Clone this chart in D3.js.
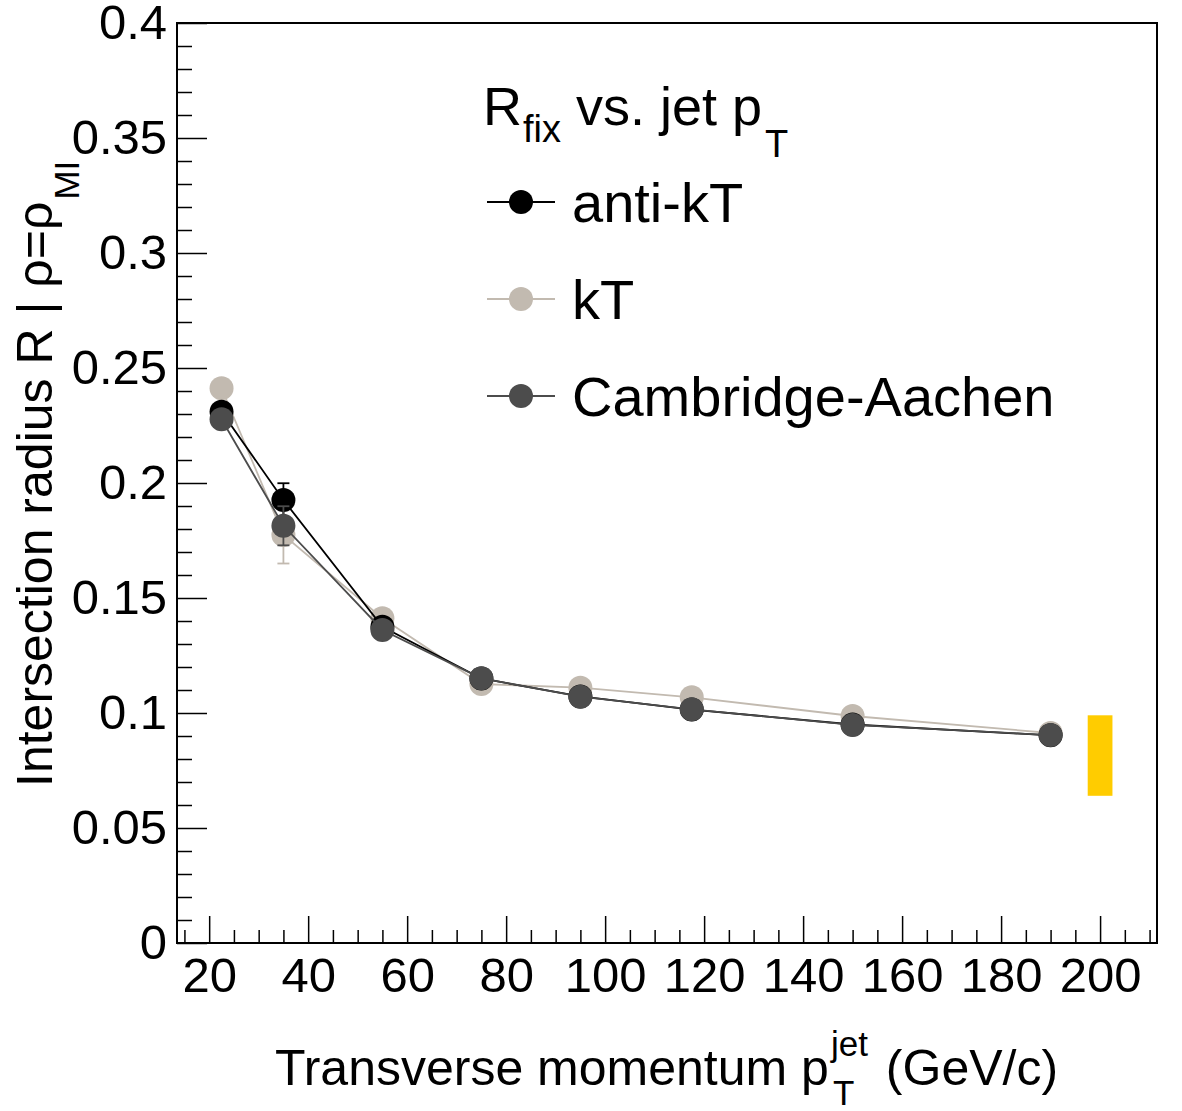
<!DOCTYPE html>
<html>
<head>
<meta charset="utf-8">
<script src="https://cdn.jsdelivr.net/npm/d3@7"></script>
<style>
  html, body { margin: 0; padding: 0; background: #fff; }
  svg { display: block; font-family: "Liberation Sans", Arial, Helvetica, sans-serif; }
</style>
</head>
<body>
<svg id="chart" width="1182" height="1111"></svg>
<script>
// ---- data ----
const pt = [22.5, 35, 55, 75, 95, 117.5, 150, 190];
const antikT = [0.2310, 0.1926, 0.1375, 0.1150, 0.1072, 0.1015, 0.0950, 0.0903];
const antikTErr = [0.003, 0.0073, 0.003, 0.002, 0.002, 0.002, 0.002, 0.002];
const kT = [0.2412, 0.1774, 0.1412, 0.1126, 0.1110, 0.1068, 0.0987, 0.0913];
const kTErr = [0.003, 0.0124, 0.003, 0.002, 0.002, 0.002, 0.002, 0.002];
const CA = [0.2277, 0.1814, 0.1361, 0.1151, 0.1071, 0.1016, 0.0948, 0.0904];
const CAErr = [0.003, 0.0085, 0.003, 0.002, 0.002, 0.002, 0.002, 0.002];
const bandX = [197.5, 202.5];
const bandY = [0.064, 0.099];
const seriesNames = ["anti-kT", "kT", "Cambridge-Aachen"];
const xTicks = [20, 40, 60, 80, 100, 120, 140, 160, 180, 200];
const yTicks = [0, 0.05, 0.1, 0.15, 0.2, 0.25, 0.3, 0.35, 0.4];
const yTickLabels = ["0", "0.05", "0.1", "0.15", "0.2", "0.25", "0.3", "0.35", "0.4"];

// ---- layout ----
const svg = d3.select("#chart");
const L = 177, R = 1157, T = 23, B = 943;
const x = d3.scaleLinear().domain([13.5, 211.5]).range([L, R]);
const y = d3.scaleLinear().domain([0, 0.4]).range([B, T]);
const FONT = 49;

const colors = { "anti-kT": "#000000", "kT": "#c2bab0", "Cambridge-Aachen": "#4c4c4c" };
const series = {
  "anti-kT": { v: antikT, e: antikTErr },
  "kT": { v: kT, e: kTErr },
  "Cambridge-Aachen": { v: CA, e: CAErr }
};

// minor ticks
const xMinor = d3.range(15, 211, 5).filter(v => !xTicks.includes(v));
const yMinor = d3.range(0, 41).map(i => +(i * 0.01).toFixed(2)).filter(v => !yTicks.some(t => Math.abs(t - v) < 1e-9));

svg.append("g").attr("transform", `translate(0,${B})`)
  .call(d3.axisBottom(x).tickValues(xMinor).tickSize(-13).tickFormat(""))
  .call(g => g.select(".domain").remove())
  .selectAll("line").attr("stroke", "#000").attr("stroke-width", 1.5);
svg.append("g").attr("transform", `translate(${L},0)`)
  .call(d3.axisLeft(y).tickValues(yMinor).tickSize(-15).tickFormat(""))
  .call(g => g.select(".domain").remove())
  .selectAll("line").attr("stroke", "#000").attr("stroke-width", 1.5);

// major ticks + labels
const gx = svg.append("g").attr("transform", `translate(0,${B})`)
  .call(d3.axisBottom(x).tickValues(xTicks).tickSize(-27).tickPadding(14).tickFormat(d3.format("d")))
  .call(g => g.select(".domain").remove());
gx.selectAll("line").attr("stroke", "#000").attr("stroke-width", 1.5);
gx.selectAll("text").attr("font-size", FONT).attr("fill", "#000").attr("font-family", null);

const gy = svg.append("g").attr("transform", `translate(${L},0)`)
  .call(d3.axisLeft(y).tickValues(yTicks).tickSize(-30).tickPadding(10)
        .tickFormat((d, i) => yTickLabels[i]))
  .call(g => g.select(".domain").remove());
gy.selectAll("line").attr("stroke", "#000").attr("stroke-width", 1.5);
gy.selectAll("text").attr("font-size", FONT).attr("fill", "#000").attr("font-family", null);

// frame
svg.append("rect").attr("x", L).attr("y", T).attr("width", R - L).attr("height", B - T)
  .attr("fill", "none").attr("stroke", "#000").attr("stroke-width", 2);

// yellow band
svg.append("rect")
  .attr("x", x(bandX[0])).attr("width", x(bandX[1]) - x(bandX[0]))
  .attr("y", y(bandY[1])).attr("height", y(bandY[0]) - y(bandY[1]))
  .attr("fill", "#ffcc00");

// series (draw order: kT, anti-kT, CA)
const line = d3.line().x(d => x(d[0])).y(d => y(d[1]));
const R_M = 12;
["kT", "anti-kT", "Cambridge-Aachen"].forEach(name => {
  const s = series[name];
  const c = colors[name];
  const pts = pt.map((p, i) => [p, s.v[i], s.e[i]]);
  const g = svg.append("g");
  g.append("path").datum(pts).attr("d", line).attr("fill", "none")
    .attr("stroke", c).attr("stroke-width", 1.8);
  pts.forEach(d => {
    const xc = x(d[0]), y1 = y(d[1] + d[2]), y2 = y(d[1] - d[2]);
    g.append("line").attr("x1", xc).attr("x2", xc).attr("y1", y1).attr("y2", y2)
      .attr("stroke", c).attr("stroke-width", 1.8);
    [y1, y2].forEach(yy => g.append("line").attr("x1", xc - 6).attr("x2", xc + 6)
      .attr("y1", yy).attr("y2", yy).attr("stroke", c).attr("stroke-width", 1.8));
  });
  g.selectAll("circle").data(pts).join("circle")
    .attr("cx", d => x(d[0])).attr("cy", d => y(d[1])).attr("r", R_M).attr("fill", c);
});

// legend
const lg = svg.append("g");
const t1 = lg.append("text").attr("x", 483).attr("y", 125).attr("font-size", 54).text("R");
let w = t1.node().getComputedTextLength();
const t2 = lg.append("text").attr("x", 483 + w + 1).attr("y", 142).attr("font-size", 38).text("fix");
w += 1 + t2.node().getComputedTextLength();
const t3 = lg.append("text").attr("x", 483 + w).attr("y", 125).attr("font-size", 54).text("\u00a0vs. jet p");
w += t3.node().getComputedTextLength();
lg.append("text").attr("x", 483 + w + 3).attr("y", 157).attr("font-size", 38).text("T");

seriesNames.forEach((name, i) => {
  const cy = 202 + i * 97;
  lg.append("line").attr("x1", 487).attr("x2", 555).attr("y1", cy).attr("y2", cy)
    .attr("stroke", colors[name]).attr("stroke-width", 1.8);
  lg.append("circle").attr("cx", 521).attr("cy", cy).attr("r", R_M).attr("fill", colors[name]);
  lg.append("text").attr("x", 572).attr("y", cy + 20).attr("font-size", 56).text(name);
});

// x axis title
const xt = svg.append("g");
const xa = xt.append("text").attr("x", 275).attr("y", 1085).attr("font-size", 50).text("Transverse momentum p");
const xw = xa.node().getComputedTextLength();
const xs = xt.append("text").attr("x", 275 + xw + 4).attr("y", 1105).attr("font-size", 35).text("T");
const xp = xt.append("text").attr("x", 275 + xw + 2).attr("y", 1056).attr("font-size", 35).text("jet");
const xmax = Math.max(xs.node().getComputedTextLength(), xp.node().getComputedTextLength());
xt.append("text").attr("x", 275 + xw + 2 + xmax + 18).attr("y", 1085).attr("font-size", 50).text("(GeV/c)");

// y axis title
const yt = svg.append("g").attr("transform", "translate(52,787) rotate(-90)");
const ya = yt.append("text").attr("x", 0).attr("y", 0).attr("font-size", 50).text("Intersection radius R | \u03c1=\u03c1");
const yw = ya.node().getComputedTextLength();
yt.append("text").attr("x", yw + 2).attr("y", 27).attr("font-size", 35).text("MI");
</script>
</body>
</html>
